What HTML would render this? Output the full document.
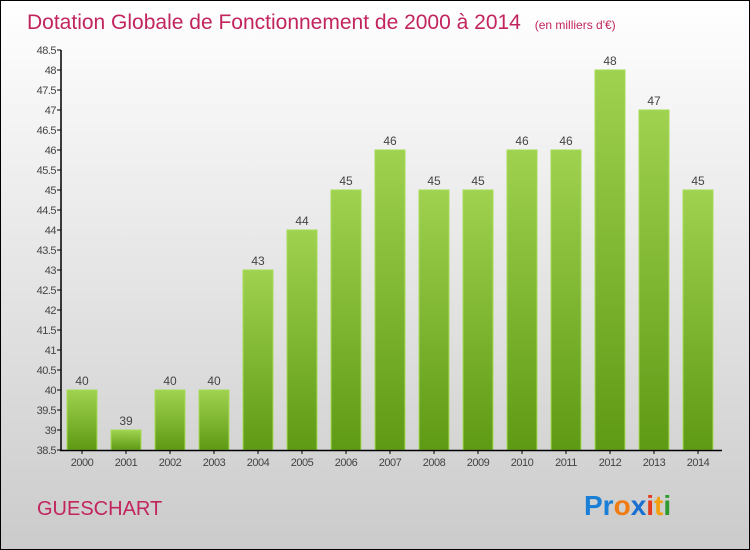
<!DOCTYPE html>
<html><head><meta charset="utf-8"><style>
body{margin:0}
#c{width:750px;height:550px;position:relative;overflow:hidden}
svg text{font-family:"Liberation Sans",sans-serif}
</style></head><body>
<div id="c">
<svg id="s" width="750" height="550" xmlns="http://www.w3.org/2000/svg">
<defs>
<linearGradient id="bg" x1="0" y1="0" x2="0" y2="1"><stop offset="0" stop-color="#ffffff"/><stop offset="1" stop-color="#cbcbcb"/></linearGradient>
<linearGradient id="bar" x1="0" y1="0" x2="0" y2="1"><stop offset="0" stop-color="#9fd24f"/><stop offset="1" stop-color="#5f9a15"/></linearGradient>
</defs>
<rect x="0.5" y="0.5" width="749" height="549" fill="url(#bg)" stroke="#000"/>
<text x="27" y="29" font-size="21" fill="#c2245e">Dotation Globale de Fonctionnement de 2000 à 2014 <tspan font-size="12" dx="8">(en milliers d'€)</tspan></text>
<g id="grid"></g>
<g id="bars"></g>
<line x1="61" y1="50" x2="61" y2="451" stroke="#000" stroke-width="1.5"/>
<line x1="60" y1="450.5" x2="722" y2="450.5" stroke="#000" stroke-width="1.5"/>
<text x="37" y="515" font-size="20" fill="#c2245e">GUESCHART</text>
<g font-size="28" font-weight="bold">
<text x="584" y="515"><tspan fill="#1a7fd6">Pr</tspan><tspan fill="#f07b12">o</tspan><tspan fill="#1a6fd0">x</tspan><tspan fill="#e53a1e">i</tspan><tspan fill="#f0a010">t</tspan><tspan fill="#2e9a2e">i</tspan></text>
</g>
</svg></div>
<script>
const categories=["2000","2001","2002","2003","2004","2005","2006","2007","2008","2009","2010","2011","2012","2013","2014"];
const values=[40,39,40,40,43,44,45,46,45,45,46,46,48,47,45];
const valueLabels=["40","39","40","40","43","44","45","46","45","45","46","46","48","47","45"];
const yTicks=[38.5,39,39.5,40,40.5,41,41.5,42,42.5,43,43.5,44,44.5,45,45.5,46,46.5,47,47.5,48,48.5];
const NS="http://www.w3.org/2000/svg";
const yMin=38.5,yMax=48.5,plotTop=50,plotBot=450,plotLeft=62,band=44;
const yS=v=>plotBot-(v-yMin)/(yMax-yMin)*(plotBot-plotTop);
const xS=i=>plotLeft+i*band+5;
function mk(t,a,p){const e=document.createElementNS(NS,t);for(const k in a)e.setAttribute(k,a[k]);p.appendChild(e);return e;}
const g=document.getElementById('grid'),b=document.getElementById('bars');
yTicks.forEach(v=>{
 const l=mk('line',{x1:57,x2:61,y1:yS(v),y2:yS(v),stroke:'#000'},g);
 
 
 const t=mk('text',{x:56,y:yS(v)+4,'font-size':11,fill:'#444','text-anchor':'end','letter-spacing':'-0.5'},g);
 t.textContent=String(v);
 
 
});
categories.forEach((c,i)=>{
 const r=mk('rect',{x:xS(i),y:yS(values[i]),width:30,height:plotBot-yS(values[i]),fill:'url(#bar)',stroke:'#a6dc56','stroke-width':1},b);
 
 
 const t=mk('text',{x:xS(i)+15,y:yS(values[i])-5,'font-size':12,fill:'#444','text-anchor':'middle'},b);
 t.textContent=valueLabels[i];
 
 
 const xl=mk('text',{x:xS(i)+15,y:466,'font-size':11,fill:'#444','text-anchor':'middle','letter-spacing':'-0.5'},b);
 xl.textContent=c;
 
 
 const tk=mk('line',{x1:xS(i)+15,x2:xS(i)+15,y1:450,y2:454,stroke:'#000'},b);
 
 
});
</script>
</body></html>
